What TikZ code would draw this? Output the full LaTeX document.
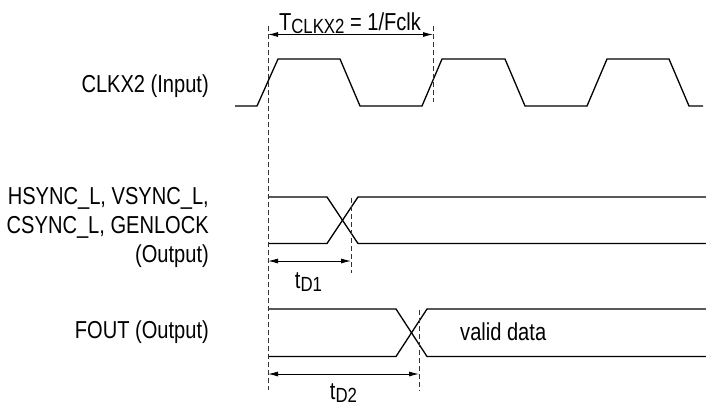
\documentclass[tikz,border=0pt]{standalone}
\usepackage{fontspec}
\setmainfont{Liberation Sans}[FakeStretch=0.82]
\usetikzlibrary{arrows.meta}
\newcommand\subtxt[1]{\raisebox{-3pt}{\fontsize{20.5}{20.5}\selectfont #1}}
\begin{document}
\begin{tikzpicture}[x=1pt,y=-1pt,
  sig/.style={line width=1.3pt, line join=miter},
  guide/.style={dash pattern=on 5pt off 3pt, line width=0.9pt, black!80},
  dim/.style={{Latex[length=10pt,width=5pt]}-{Latex[length=10pt,width=5pt]}, line width=0.9pt},
  lbl/.style={inner sep=0pt, font=\fontsize{24.5}{29}\selectfont}]
\useasboundingbox (0,0) rectangle (706,408);

% labels
\node[lbl, anchor=base east] (clklbl) at (209,92) {CLKX2 (Input)};
\node[lbl, anchor=north east, align=right] (synclbl) at (209,187.6) {HSYNC\_L, VSYNC\_L,\\CSYNC\_L, GENLOCK\\(Output)};
\node[lbl, anchor=base east] (foutlbl) at (209,338) {FOUT (Output)};
\node[lbl, anchor=base] (tclk) at (350,30) {T\subtxt{CLKX2} = 1/Fclk};
\node[lbl, anchor=base] (td1) at (308.5,288) {t\subtxt{D1}};
\node[lbl, anchor=base] (td2) at (343.5,399) {t\subtxt{D2}};
\node[lbl, anchor=base west] (valid) at (460,340) {valid data};

% clock
\draw[sig] (235,106) -- (257,106) -- (278,59) -- (340,59) -- (360,106) -- (422,106) -- (442,59) -- (505,59) -- (525,106) -- (587,106) -- (607,59) -- (669,59) -- (689,106) -- (703,106);

% sync outputs
\draw[sig] (268,197) -- (327,197) -- (358,243.5) -- (706,243.5);
\draw[sig] (268,243.5) -- (327,243.5) -- (358,197) -- (706,197);

% FOUT
\draw[sig] (268,309) -- (396,309) -- (427,356.5) -- (706,356.5);
\draw[sig] (268,356.5) -- (396,356.5) -- (427,309) -- (706,309);

% guide lines
\coordinate (g0t) at (268,26);
\coordinate (g0b) at (268,390);
\coordinate (g1t) at (433,26);
\coordinate (g1b) at (433,102);
\coordinate (g2t) at (351,198);
\coordinate (g2b) at (351,273);
\coordinate (g3t) at (419,310);
\coordinate (g3b) at (419,391);
\draw[guide] (g0t) -- (g0b);
\draw[guide] (g1t) -- (g1b);
\draw[guide] (g2t) -- (g2b);
\draw[guide] (g3t) -- (g3b);

% dimension arrows
\coordinate (a0) at (268,34.5);
\coordinate (a1) at (433,34.5);
\coordinate (b0) at (268,261);
\coordinate (b1) at (351,261);
\coordinate (c0) at (268,374);
\coordinate (c1) at (419,374);
\draw[dim] (a0) -- (a1);
\draw[dim] (b0) -- (b1);
\draw[dim] (c0) -- (c1);
\end{tikzpicture}
\end{document}
